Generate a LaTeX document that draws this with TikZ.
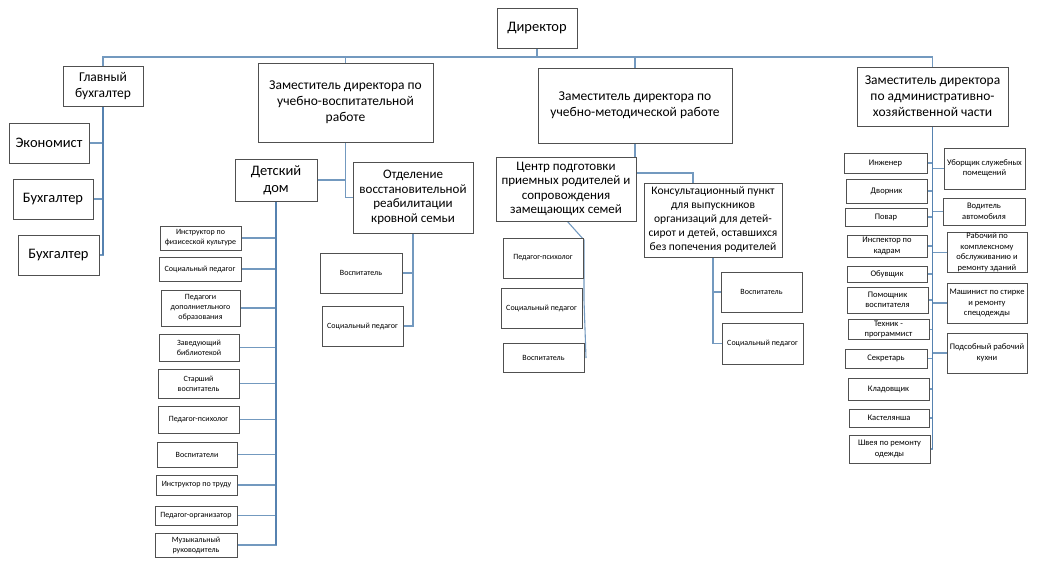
\documentclass[tikz,border=0pt]{standalone}
\usepackage{fontspec}
\setmainfont{Carlito}
\usetikzlibrary{backgrounds}
\definecolor{bord}{HTML}{505050}
\definecolor{lnk}{HTML}{7399BF}
\definecolor{lnkd}{HTML}{5682B0}
\tikzset{
 box/.style={draw=bord, line width=0.7pt, fill=white, inner sep=1pt, align=center, anchor=center},
 conn/.style={draw=lnk, line width=1.1pt},
 trunk/.style={draw=lnkd, line width=1.8pt},
 fbig/.style={font=\fontsize{13.5}{16}\selectfont},
 fxl/.style={font=\fontsize{14.5}{17}\selectfont},
 fmid/.style={font=\fontsize{13}{14.5}\selectfont},
 fkon/.style={font=\fontsize{11.5}{14}\selectfont},
 fsm/.style={font=\fontsize{8}{10}\selectfont},
 fah/.style={font=\fontsize{8.5}{10.5}\selectfont},
}
\newcommand\bx[7][]{\node[box,#1,minimum width={#4pt-#2pt},minimum height={#5pt-#3pt}] (#6) at ({(#2+#4)/2},{(#3+#5)/2}) {#7};}
\begin{document}
\begin{tikzpicture}[x=1pt,y=-1pt]
\useasboundingbox (0,0) rectangle (1043,574);
% top
\bx[fxl]{497}{8}{577}{48}{dir}{Директор}
\bx[fbig]{63}{66}{143}{106}{gb}{Главный\\бухгалтер}
\bx[fbig]{258}{63}{433}{142}{uvr}{Заместитель директора по\\учебно-воспитательной\\работе}
\bx[fbig]{538}{68}{732}{143}{umr}{Заместитель директора по\\учебно-методической работе}
\bx[fbig]{857}{67}{1008}{126}{ahc}{Заместитель директора\\по административно-\\хозяйственной части}
% accounting
\bx[fxl]{9}{123}{89}{163}{eco}{Экономист}
\bx[fxl]{13}{179}{93}{219}{bu1}{Бухгалтер}
\bx[fxl]{18}{235}{99}{275}{bu2}{Бухгалтер}
% UVR
\bx[fxl]{235}{159}{317}{201}{dd}{Детский\\дом}
\bx[fmid]{353}{162}{473}{233}{otd}{Отделение\\восстановительной\\реабилитации\\кровной семьи}
\bx[fsm]{320}{253}{402}{293}{ov}{Воспитатель}
\bx[fsm]{322}{306}{403}{346}{os}{Социальный педагог}
\bx[fsm]{160}{226}{241}{250}{c1}{Инструктор по\\физисеской культуре}
\bx[fsm]{159}{257}{241}{281}{c2}{Социальный педагог}
\bx[fsm]{161}{290}{240}{326}{c3}{Педагоги\\дополниетльного\\образования}
\bx[fsm]{159}{334}{239}{361}{c4}{Заведующий\\библиотекой}
\bx[fsm]{158}{369}{239}{398}{c5}{Старший\\воспитатель}
\bx[fsm]{158}{406}{239}{433}{c6}{Педагог-психолог}
\bx[fsm]{157}{442}{237}{467}{c7}{Воспитатели}
\bx[fsm]{156}{475}{237}{495}{c8}{Инструктор по труду}
\bx[fsm]{155}{506}{237}{525}{c9}{Педагог-организатор}
\bx[fsm]{155}{533}{237}{557}{c10}{Музыкальный\\руководитель}
% UMR
\bx[fmid]{496}{157}{636}{221}{ts}{Центр подготовки\\приемных родителей и\\сопровождения\\замещающих семей}
\bx[fkon]{644}{183}{782}{257}{kon}{Консультационный пункт\\для выпускников\\организаций для детей-\\сирот и детей, оставшихся\\без попечения родителей}
\bx[fsm]{503}{238}{583}{278}{tp}{Педагог-психолог}
\bx[fsm]{501}{288}{582}{328}{tsp}{Социальный педагог}
\bx[fsm]{503}{343}{584}{372}{tv}{Воспитатель}
\bx[fsm]{721}{272}{802}{312}{kv}{Воспитатель}
\bx[fsm]{722}{323}{803}{364}{ksp}{Социальный педагог}
% AHC left
\bx[fah]{844}{153}{927}{173}{a1}{Инженер}
\bx[fah]{846}{179}{927}{203}{a2}{Дворник}
\bx[fah]{845}{208}{927}{226}{a3}{Повар}
\bx[fah]{847}{235}{927}{257}{a4}{Инспектор по\\кадрам}
\bx[fah]{847}{266}{927}{282}{a5}{Обувщик}
\bx[fah]{847}{287}{928}{313}{a6}{Помощник\\воспитателя}
\bx[fah]{848}{321}{929}{338}{a7}{Техник -\\программист}
\bx[fah]{845}{349}{927}{368}{a8}{Секретарь}
\bx[fah]{848}{378}{929}{400}{a9}{Кладовщик}
\bx[fah]{849}{409}{929}{427}{a10}{Кастелянша}
\bx[fah]{849}{435}{930}{463}{a11}{Швея по ремонту\\одежды}
% AHC right
\bx[fah]{944}{148}{1025}{189}{r1}{Уборщик служебных\\помещений}
\bx[fah]{943}{198}{1025}{225}{r2}{Водитель\\автомобиля}
\bx[fah]{947}{233}{1027}{272}{r3}{Рабочий по\\комплексному\\обслуживанию и\\ремонту зданий}
\bx[fah]{947}{283}{1027}{323}{r4}{Машинист по стирке\\и ремонту\\спецодежды}
\bx[fah]{947}{333}{1027}{373}{r5}{Подсобный рабочий\\кухни}
\coordinate (bus) at (0,57);
\coordinate (kj) at (693,173);
\coordinate (tj0) at (567,221);
\coordinate (tj1) at (584,240);
\coordinate (tj2) at (584,300);
\coordinate (tj3) at (586,358);
\begin{scope}[on background layer]
 \draw[conn] (dir.south) -- (dir.south |- bus) -| (gb.north);
 \draw[conn] (dir.south |- bus) -| (uvr.north);
 \draw[conn] (dir.south |- bus) -| (umr.north);
 \draw[conn] (dir.south |- bus) -| (ahc.north);
 \foreach \n in {eco,bu1,bu2} \draw[conn] (gb.south) |- (\n.east);
 \draw[trunk] (gb.south) -- (gb.south |- bu2.east);
 \draw[conn] (uvr.south) |- (otd.west);
 \draw[conn] (dd.east) -- (dd.east -| uvr.south);
 \foreach \n in {ov,os} \draw[conn] (otd.south) |- (\n.east);
 \foreach \n in {c1,c2,c3,c4,c5,c6,c7,c8,c9,c10} \draw[conn] (dd.south) |- (\n.east);
 \draw[trunk] (dd.south) -- (dd.south |- c10.east);
 \draw[conn] (umr.south) |- (kj) -- (kj |- kon.north);
 \draw[conn] (tj0) -- (tj1) -- (tj2) -- (tj3);
 \foreach \n in {kv,ksp} \draw[conn] (kon.south) |- (\n.west);
 \foreach \n in {a1,a2,a3,a4,a5,a6,a7,a8,a9,a10,a11} \draw[conn] (ahc.south) |- (\n.east);
 \foreach \n in {r1,r2,r3,r4,r5} \draw[conn] (ahc.south) |- (\n.west);
 \draw[trunk] (ahc.south) -- (ahc.south |- a11.east);
\end{scope}
\end{tikzpicture}
\end{document}
